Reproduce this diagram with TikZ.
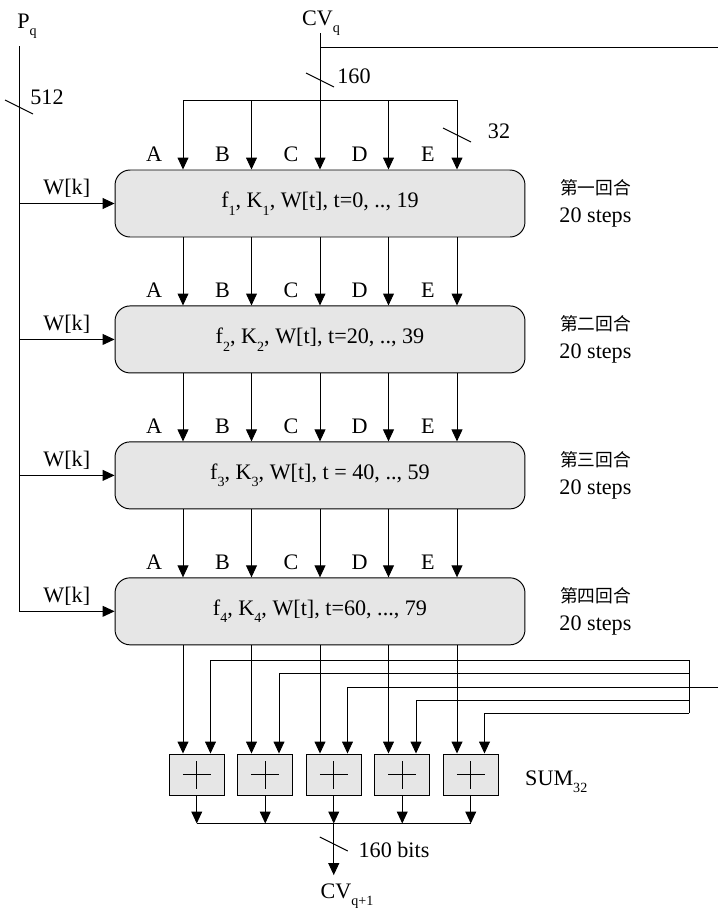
\documentclass[tikz,border=0pt]{standalone}
\usepackage{fontspec}
\setmainfont{Liberation Serif}
\newfontfamily\cjk{Noto Sans CJK TC}[Scale=0.8]
\usetikzlibrary{arrows.meta, positioning, calc}
\definecolor{boxgray}{HTML}{E6E6E6}
\newcommand{\sub}[1]{\raisebox{-0.35em}{\fontsize{8}{8}\selectfont #1}}

\begin{document}
\begin{tikzpicture}[
  x=0.02cm, y=-0.02cm,
  font=\fontsize{12.6}{14}\selectfont,
  line width=0.55pt,
  >={Triangle[length=6.8pt, width=6.2pt]},
  rnd/.style={rectangle, draw, fill=boxgray, rounded corners=0.3cm,
              minimum width=8.2cm, minimum height=1.34cm, align=center},
  adder/.style={rectangle, draw, fill=boxgray,
                minimum width=1.1cm, minimum height=0.82cm,
                path picture={\draw[line width=0.5pt]
                  ([xshift=-0.28cm]path picture bounding box.center) -- ++(0.56cm,0)
                  ([yshift=-0.28cm]path picture bounding box.center) -- ++(0,0.56cm);}},
  tag/.style={align=center, font=\fontsize{12.6}{16}\selectfont},
  lbl/.style={inner sep=1pt},
  bits/.pic={\draw (-14,-7) -- (14,7);}
]
\useasboundingbox (0,0) rectangle (718,910);

% Inputs
\node[lbl, anchor=base] (pq) at (27,28) {P\sub{q}};
\node[lbl, anchor=base] (cvq) at (321,25) {CV\sub{q}};
\coordinate (ptop) at (19,46);
\coordinate (cvtop) at (320,33);

% Rounds
\node[rnd] (r1) at (320,203.5) {f\sub{1}, K\sub{1}, W[t], t=0, .., 19};
\node[rnd, below=1.36cm of r1] (r2) {f\sub{2}, K\sub{2}, W[t], t=20, .., 39};
\node[rnd, below=1.36cm of r2] (r3) {f\sub{3}, K\sub{3}, W[t], t = 40, .., 59};
\node[rnd, below=1.36cm of r3] (r4) {f\sub{4}, K\sub{4}, W[t], t=60, ..., 79};
\node[tag] (t1) at ($(r1.east)+(70,0)$) {{\cjk 第一回合}\\20 steps};
\node[tag] (t2) at ($(r2.east)+(70,0)$) {{\cjk 第二回合}\\20 steps};
\node[tag] (t3) at ($(r3.east)+(70,0)$) {{\cjk 第三回合}\\20 steps};
\node[tag] (t4) at ($(r4.east)+(70,0)$) {{\cjk 第四回合}\\20 steps};

% Word bus A..E
\foreach \j/\x in {1/183,2/251.5,3/320,4/388.5,5/457}
  \coordinate (b\j) at (\x,100);
\draw (b1) -- (b5);
\draw[->] (cvtop) -- (b3 |- r1.north);
\foreach \j in {1,2,4,5}
  \draw[->] (b\j) -- (b\j |- r1.north);
\foreach \i/\n in {1/2,2/3,3/4}
  \foreach \j in {1,...,5}
    \draw[->] (b\j |- r\i.south) -- (b\j |- r\n.north);
\foreach \i in {1,...,4}
  \foreach \j/\L in {1/A,2/B,3/C,4/D,5/E}
    \node (l\i\j) at ($(b\j |- r\i.north)+(-29,-15)$) {\L};

% Message words
\draw (ptop) -- (ptop |- r4.west);
\foreach \i in {1,...,4}
  \draw[->] (ptop |- r\i.west) -- node[above] (w\i) {W[k]} (r\i.west);

% Bit widths
\pic at (19,107) {bits};
\node[lbl, anchor=base] (nin) at (47,104) {512};
\pic at (320,80) {bits};
\node[lbl, anchor=base] (ncv) at (354,83) {160};
\pic at (457,135) {bits};
\node[lbl, anchor=base] (nword) at (499,138) {32};

% Adders
\foreach \j in {1,...,5}
  \node[adder] (s\j) at ($(b\j)+(13.75,674.5)$) {};
\node[lbl, anchor=base west] (nsum) at (523,785) {SUM\sub{32}};
\foreach \j in {1,...,5}
  \draw[->] (b\j |- r4.south) -- (b\j |- s\j.north);

% CV_q feed-forward
\coordinate (cvfeed) at (320,47);
\coordinate (edge1) at (718,47);
\coordinate (edge2) at (718,687);
\draw (cvfeed) -- (edge1);
\draw (edge2) -- (689,687);
\draw (689,660) -- (689,713);
\foreach \j/\y in {1/660,2/673.5,3/687,4/700,5/713}{
  \coordinate (fb\j) at (689,\y);
  \draw[->] (fb\j) -| ($(s\j.north)+(13.75,0)$);
}

% Output
\coordinate (sbus) at ($(s3.south)+(0,28)$);
\foreach \j in {1,...,5}
  \draw[->] (s\j.south) -- (s\j.south |- sbus);
\draw (s1.south |- sbus) -- (s5.south |- sbus);
\node[lbl, anchor=base] (cvout) at (347,898) {CV\sub{q+1}};
\draw[->, shorten >=0.12cm] (sbus) -- (sbus |- cvout.north);
\pic at (333.75,844) {bits};
\node[lbl, anchor=base] (nout) at (394,857) {160 bits};
\end{tikzpicture}
\end{document}
